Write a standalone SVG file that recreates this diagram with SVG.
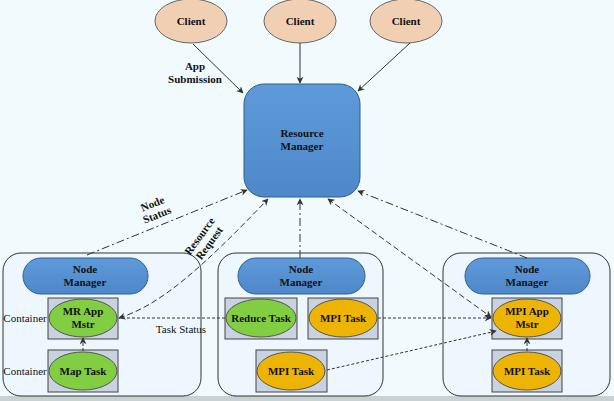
<svg xmlns="http://www.w3.org/2000/svg" width="614" height="401" viewBox="0 0 614 401">
<defs>
<marker id="ah" viewBox="0 0 10 10" refX="9" refY="5" markerWidth="7" markerHeight="7" orient="auto-start-reverse" markerUnits="userSpaceOnUse">
<path d="M0,0 L10,5 L0,10 L3,5 Z" fill="#333"/>
</marker>
<linearGradient id="blue" x1="0" y1="0" x2="0" y2="1">
<stop offset="0" stop-color="#5e9ad9"/>
<stop offset="1" stop-color="#4f88c9"/>
</linearGradient>
</defs>
<style>
text{font-family:"Liberation Serif","Times New Roman",serif;font-size:11px;fill:#111;text-anchor:middle}
.b{font-weight:bold}
.client{fill:#f1cfb3;stroke:#666;stroke-width:1}
.blue{fill:url(#blue);stroke:#2f5f8f;stroke-width:1}
.node{fill:#eef7fd;stroke:#333;stroke-width:1}
.cont{fill:#c8d2e0;stroke:#444;stroke-width:1}
.green{fill:#82ce42;stroke:#555;stroke-width:1}
.yel{fill:#eeb404;stroke:#555;stroke-width:1}
.c{fill:none;stroke:#333;stroke-width:1}
.dd{stroke-dasharray:8,3,2,3}
.da{stroke-dasharray:6,3}
.dt{stroke-dasharray:3,2}
</style>
<rect width="614" height="401" fill="#f1fbfe"/>
<rect y="396" width="614" height="5" fill="#c9d2d2"/>

<g id="client1"><ellipse class="client" cx="191" cy="21" rx="36" ry="22"/><text class="b" x="191" y="25">Client</text></g>
<g id="client2"><ellipse class="client" cx="300" cy="21" rx="36" ry="22"/><text class="b" x="300" y="25">Client</text></g>
<g id="client3"><ellipse class="client" cx="406" cy="21" rx="36" ry="22"/><text class="b" x="406" y="25">Client</text></g>

<g id="rm"><rect class="blue" x="244" y="84" width="116" height="113" rx="20"/><text class="b" x="302" y="137">Resource</text><text class="b" x="302" y="150">Manager</text></g>

<g id="node1">
<rect class="node" x="3" y="253" width="198" height="143" rx="18"/>
<rect class="blue" x="23" y="258" width="125" height="36" rx="18"/>
<text class="b" x="85" y="273">Node</text><text class="b" x="85" y="286">Manager</text>
<text x="25" y="322">Container</text>
<rect class="cont" x="48" y="298" width="70" height="41"/>
<ellipse class="green" cx="83" cy="318" rx="34" ry="19"/>
<text class="b" x="83" y="315">MR App</text><text class="b" x="83" y="328">Mstr</text>
<text x="25" y="375">Container</text>
<rect class="cont" x="48" y="350" width="70" height="42"/>
<ellipse class="green" cx="83" cy="371" rx="34" ry="19"/>
<text class="b" x="83" y="375">Map Task</text>
</g>

<g id="node2">
<rect class="node" x="218" y="253" width="165" height="143" rx="18"/>
<rect class="blue" x="238" y="258" width="127" height="36" rx="18"/>
<text class="b" x="301" y="273">Node</text><text class="b" x="301" y="286">Manager</text>
<rect class="cont" x="225" y="298" width="72" height="41"/>
<ellipse class="green" cx="261" cy="318" rx="35" ry="19"/>
<text class="b" x="261" y="322">Reduce Task</text>
<rect class="cont" x="308" y="298" width="70" height="41"/>
<ellipse class="yel" cx="343" cy="318" rx="34" ry="19"/>
<text class="b" x="343" y="322">MPI Task</text>
<rect class="cont" x="256" y="350" width="71" height="42"/>
<ellipse class="yel" cx="291" cy="371" rx="34" ry="19"/>
<text class="b" x="291" y="375">MPI Task</text>
</g>

<g id="node3">
<rect class="node" x="443" y="253" width="167" height="143" rx="18"/>
<rect class="blue" x="465" y="258" width="125" height="36" rx="18"/>
<text class="b" x="527" y="273">Node</text><text class="b" x="527" y="286">Manager</text>
<rect class="cont" x="492" y="298" width="70" height="41"/>
<ellipse class="yel" cx="527" cy="318" rx="34" ry="19"/>
<text class="b" x="527" y="315">MPI App</text><text class="b" x="527" y="328">Mstr</text>
<rect class="cont" x="492" y="350" width="70" height="42"/>
<ellipse class="yel" cx="527" cy="371" rx="34" ry="19"/>
<text class="b" x="527" y="375">MPI Task</text>
</g>

<g id="connectors">
<line class="c" x1="193" y1="44" x2="243" y2="93" marker-end="url(#ah)"/>
<line class="c" x1="300" y1="43" x2="300" y2="83" marker-end="url(#ah)"/>
<line class="c" x1="410" y1="43" x2="358" y2="91" marker-end="url(#ah)"/>
<line class="c dd" x1="87" y1="255" x2="247" y2="190" marker-end="url(#ah)"/>
<path class="c da" d="M119,318 C160,305 200,270 268,199" marker-start="url(#ah)" marker-end="url(#ah)"/>
<line class="c dd" x1="300" y1="258" x2="300" y2="199" marker-end="url(#ah)"/>
<line class="c da" x1="328" y1="199" x2="491" y2="317" marker-start="url(#ah)" marker-end="url(#ah)"/>
<line class="c dd" x1="527" y1="258" x2="358" y2="191" marker-end="url(#ah)"/>
<line class="c dt" x1="225" y1="318" x2="119" y2="318"/>
<line class="c dt" x1="378" y1="318" x2="491" y2="318" marker-end="url(#ah)"/>
<line class="c dt" x1="327" y1="370" x2="496" y2="331" marker-end="url(#ah)"/>
<line class="c dt" x1="83" y1="351" x2="83" y2="338" marker-end="url(#ah)"/>
<line class="c dt" x1="527" y1="351" x2="527" y2="338" marker-end="url(#ah)"/>
<text class="b" x="195" y="70">App</text>
<text class="b" x="195" y="83">Submission</text>
<text class="b" transform="translate(155,210) rotate(-22)"><tspan x="0" y="-3">Node</tspan><tspan x="0" y="9">Status</tspan></text>
<text class="b" transform="translate(205,240) rotate(-54)"><tspan x="0" y="-3">Resource</tspan><tspan x="0" y="9">Request</tspan></text>
<text x="181" y="333">Task Status</text>
</g>
</svg>
